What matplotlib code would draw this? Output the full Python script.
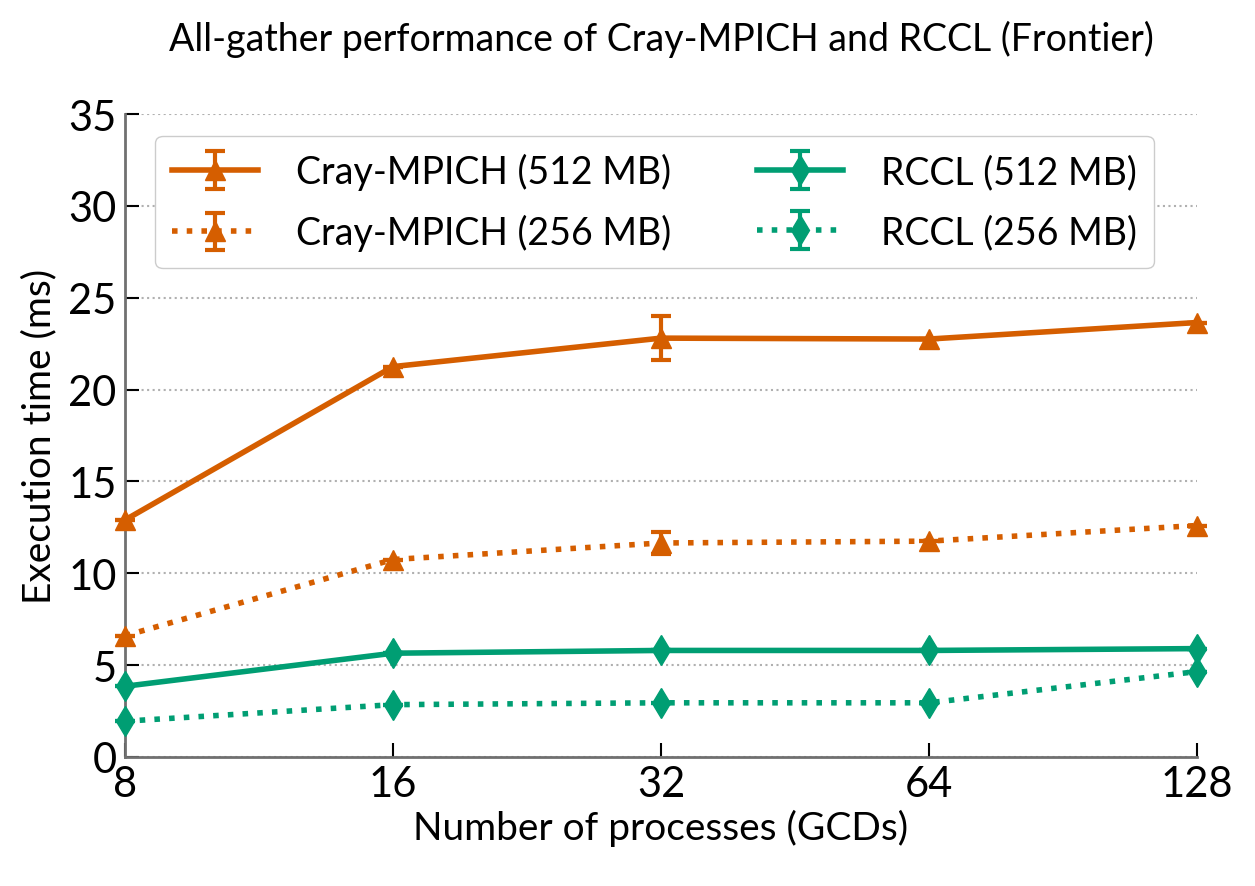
import numpy as np
import matplotlib.pyplot as plt
import matplotlib

matplotlib.rc('font', family=['Lato', 'DejaVu Sans'])

procs = [8, 16, 32, 64, 128]
mpich_512 = [12.9, 21.25, 22.8, 22.75, 23.65]
mpich_512_err = [0.0, 0.0, 1.2, 0.0, 0.0]
mpich_256 = [6.6, 10.75, 11.65, 11.75, 12.6]
mpich_256_err = [0.0, 0.0, 0.6, 0.0, 0.0]
rccl_512 = [3.85, 5.65, 5.8, 5.8, 5.9]
rccl_512_err = [0.0, 0.0, 0.0, 0.0, 0.0]
rccl_256 = [1.95, 2.85, 2.95, 2.95, 4.65]
rccl_256_err = [0.0, 0.0, 0.0, 0.0, 0.0]

orange = '#d55e00'
green = '#009e73'

fig = plt.figure(figsize=(12.55, 8.87), dpi=100)
ax = fig.add_axes([125/1255, 1 - 758/887, (1197-125)/1255, (758-115)/887])

kw = dict(lw=4, capsize=7, capthick=3, elinewidth=3, clip_on=False, zorder=3)
ax.errorbar(procs, mpich_512, yerr=mpich_512_err, color=orange, ls='-', marker='^', ms=15,
            label='Cray-MPICH (512 MB)', **kw)
ax.errorbar(procs, mpich_256, yerr=mpich_256_err, color=orange, ls=':', marker='^', ms=15,
            label='Cray-MPICH (256 MB)', **kw)
ax.errorbar(procs, rccl_512, yerr=rccl_512_err, color=green, ls='-', marker='d', ms=15,
            label='RCCL (512 MB)', **kw)
ax.errorbar(procs, rccl_256, yerr=rccl_256_err, color=green, ls=':', marker='d', ms=15,
            label='RCCL (256 MB)', **kw)

ax.set_xscale('log', base=2)
ax.set_xlim(8, 128)
ax.set_xticks(procs)
ax.set_xticklabels([str(p) for p in procs])
ax.minorticks_off()
ax.set_ylim(0, 35)
ax.set_yticks(np.arange(0, 36, 5))

ax.yaxis.grid(True, ls=':', color='#b0b0b0', lw=1.5)
ax.set_axisbelow(True)
for s in ['top', 'right']:
    ax.spines[s].set_visible(False)
for s in ['left', 'bottom']:
    ax.spines[s].set_color('#707070')
    ax.spines[s].set_linewidth(2)
ax.tick_params(direction='in', length=10, width=1.5, color='black', labelsize=30, pad=6)

ax.set_xlabel('Number of processes (GCDs)', fontsize=28, labelpad=4)
ax.set_ylabel('Execution time (ms)', fontsize=28, labelpad=8)
ax.set_title('All-gather performance of Cray-MPICH and RCCL (Frontier)', fontsize=27, pad=46)

ax.legend(ncol=2, fontsize=27, loc='upper left', bbox_to_anchor=(0.028, 0.966),
          borderaxespad=0, handlelength=2.3, columnspacing=2.3, handletextpad=1.0,
          framealpha=1, edgecolor='#cccccc', borderpad=0.45, labelspacing=0.65)

plt.savefig('out.png', dpi=100)
